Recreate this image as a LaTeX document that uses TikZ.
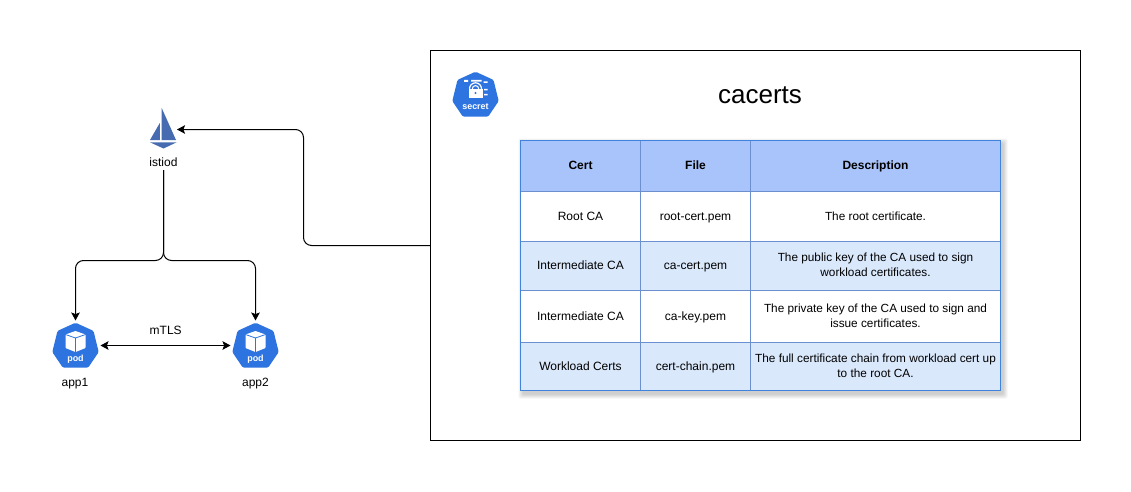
\documentclass[tikz,border=0pt]{standalone}
\usepackage{fontspec}
\setmainfont{Liberation Sans}
\usetikzlibrary{arrows.meta}
\definecolor{kubeb}{HTML}{2E74E0}
\definecolor{sail}{HTML}{466BB0}
\definecolor{headfill}{HTML}{A9C4FA}
\definecolor{rowfill}{HTML}{DAE8FC}
\definecolor{cellline}{HTML}{6C8FD0}
\definecolor{outerline}{HTML}{3F83DC}
\tikzset{
  x=0.75pt,y=-0.75pt,
  every node/.style={inner sep=0pt,outer sep=0pt,font=\fontsize{9}{11.25}\selectfont,align=center},
  conn/.style={line width=0.75pt,black,rounded corners=6pt,-{Stealth[length=6pt,width=6.4pt,inset=1.2pt]}},
  biconn/.style={line width=0.75pt,black,{Stealth[length=6pt,width=6.4pt,inset=1.2pt]}-{Stealth[length=6pt,width=6.4pt,inset=1.2pt]}},
  frame/.style={draw=black,line width=0.75pt,fill=white,minimum width=487.5pt,minimum height=292.5pt},
  iconslot/.style={minimum width=37.5pt,minimum height=37.5pt},
  iconword/.style={text=white,font=\fontsize{6.7}{7}\selectfont\bfseries},
  cell/.style={draw=cellline,line width=0.75pt,text=black,execute at begin node={\rule{0pt}{7.5pt}},execute at end node={\rule[-1.8pt]{0pt}{0pt}}},
  hd/.style={fill=headfill,font=\fontsize{9}{11.25}\selectfont\bfseries},
  wt/.style={fill=white},
  bl/.style={fill=rowfill},
  colA/.style={cell,minimum width=90pt},
  colB/.style={cell,minimum width=82.5pt},
  colC/.style={cell,minimum width=187.5pt},
  desc/.style={font=\fontsize{8.85}{11.25}\selectfont},
  pics/hept/.style={code={
    \fill[kubeb,rounded corners=1pt] (0,-22.8) -- (18,-14.6) -- (23.2,6.6) -- (12.6,22.2) -- (-12.6,22.2) -- (-23.2,6.6) -- (-18,-14.6) -- cycle;
  }},
  pics/cube/.style={code={
    \fill[white,rounded corners=0.5pt] (0,-14.5) -- (10,-11) -- (10,2.5) -- (0,6.5) -- (-10,2.5) -- (-10,-11) -- cycle;
    \draw[kubeb,line width=0.6pt] (-10,-11) -- (0,-7.5) -- (10,-11) (0,-7.5) -- (0,6.5);
  }},
  pics/lock/.style={code={
    \draw[white,line width=0.9pt] (-6,-5.7) arc[start angle=180,delta angle=180,radius=6];
    \draw[white,line width=0.8pt] (-3.2,-5.7) arc[start angle=180,delta angle=180,radius=3.2];
    \fill[white] (-7,-5.7) rectangle (7,3.5);
    \fill[kubeb] (0,-1.5) circle[radius=1.2];
    \fill[white] (-11.5,-14.5) rectangle (-7.5,-12.5) (-4.5,-14.5) rectangle (6,-12.8)
      (8,-13) rectangle (12,-11.5) (8.5,-5.5) rectangle (12,-4) (8.5,-0.5) rectangle (12,1);
  }}
}
\begin{document}
\begin{tikzpicture}
\useasboundingbox (0,0) rectangle (1131,492);
\fill[white] (0,0) rectangle (1131,492);

% outer box
\node[frame] (box) at (755.5,245.5) {};

% soft table shadow
\foreach \g in {5,4,3,2,1}
  \fill[black,opacity=0.04,rounded corners=1pt] (520.5-\g+3,140.5-\g+3) rectangle (1000.5+\g+2,390.5+\g+3);

% table
\node[colA,hd,minimum height=38.25pt] (h1) at (580.5,166) {Cert};
\node[colB,hd,minimum height=38.25pt] (h2) at (695.5,166) {File};
\node[colC,hd,minimum height=38.25pt] (h3) at (875.5,166) {Description};
\node[colA,wt,minimum height=37.5pt] (a1) at (580.5,216.5) {Root CA};
\node[colB,wt,minimum height=37.5pt] (a2) at (695.5,216.5) {root-cert.pem};
\node[colC,wt,desc,minimum height=37.5pt] (a3) at (875.5,216.5) {The root certificate.};
\node[colA,bl,minimum height=36.75pt] (b1) at (580.5,266) {Intermediate CA};
\node[colB,bl,minimum height=36.75pt] (b2) at (695.5,266) {ca-cert.pem};
\node[colC,bl,desc,minimum height=36.75pt] (b3) at (875.5,266) {The public key of the CA used to sign\\workload certificates.};
\node[colA,wt,minimum height=39pt] (c1) at (580.5,316.5) {Intermediate CA};
\node[colB,wt,minimum height=39pt] (c2) at (695.5,316.5) {ca-key.pem};
\node[colC,wt,desc,minimum height=39pt] (c3) at (875.5,316.5) {The private key of the CA used to sign and\\issue certificates.};
\node[colA,bl,minimum height=36pt] (d1) at (580.5,366.5) {Workload Certs};
\node[colB,bl,minimum height=36pt] (d2) at (695.5,366.5) {cert-chain.pem};
\node[colC,bl,desc,minimum height=36pt] (d3) at (875.5,366.5) {The full certificate chain from workload cert up\\to the root CA.};
\draw[outerline,line width=0.75pt] (h1.north west) rectangle (d3.south east);

% title and secret icon
\node[font=\fontsize{19.5}{22}\selectfont] (title) at (760,95) {cacerts};
\node[iconslot] (secret) at (475.5,94.5) {};
\pic at (secret.center) {hept};
\pic at (secret.center) {lock};
\node[iconword] (secretword) at (475.5,106.7) {secret};

% istiod
\node[minimum width=21pt,minimum height=31.5pt] (istio) at (163,129.5) {};
\fill[sail] (161.7,108) -- (176,140) -- (161.7,140) -- cycle;
\fill[sail] (159.8,123) -- (159.8,140) -- (150,140) -- cycle;
\fill[sail] (150,142.3) -- (176.7,142.3) -- (163.5,148.5) -- cycle;
\node[minimum height=11.25pt] (istiod) at (163.5,162.5) {istiod};

% pods
\node[iconslot] (pod1) at (75.5,345.5) {};
\pic at (pod1.center) {hept};
\pic at (pod1.center) {cube};
\node[iconword] (pod1word) at (75.5,358.7) {pod};
\node[iconslot] (pod2) at (255.5,345.5) {};
\pic at (pod2.center) {hept};
\pic at (pod2.center) {cube};
\node[iconword] (pod2word) at (255.5,358.7) {pod};
\node (app1) at (75,384) {app1};
\node (app2) at (255.5,384) {app2};
\node (mtls) at (165.7,330) {mTLS};

% connectors
\coordinate (j) at (163.5,260.5);
\coordinate (l) at (75.5,260.5);
\coordinate (r) at (255.5,260.5);
\coordinate (c1t) at (303.5,245.5);
\coordinate (c2t) at (303.5,129.5);
\draw[conn] (istiod.south) -- (j) -- (l) -- (pod1.north);
\draw[conn] (istiod.south) -- (j) -- (r) -- (pod2.north);
\draw[biconn] (pod1.east) -- (pod2.west);
\draw[conn] (box.west) -- (c1t) -- (c2t) -- (istio.east);
\end{tikzpicture}
\end{document}
